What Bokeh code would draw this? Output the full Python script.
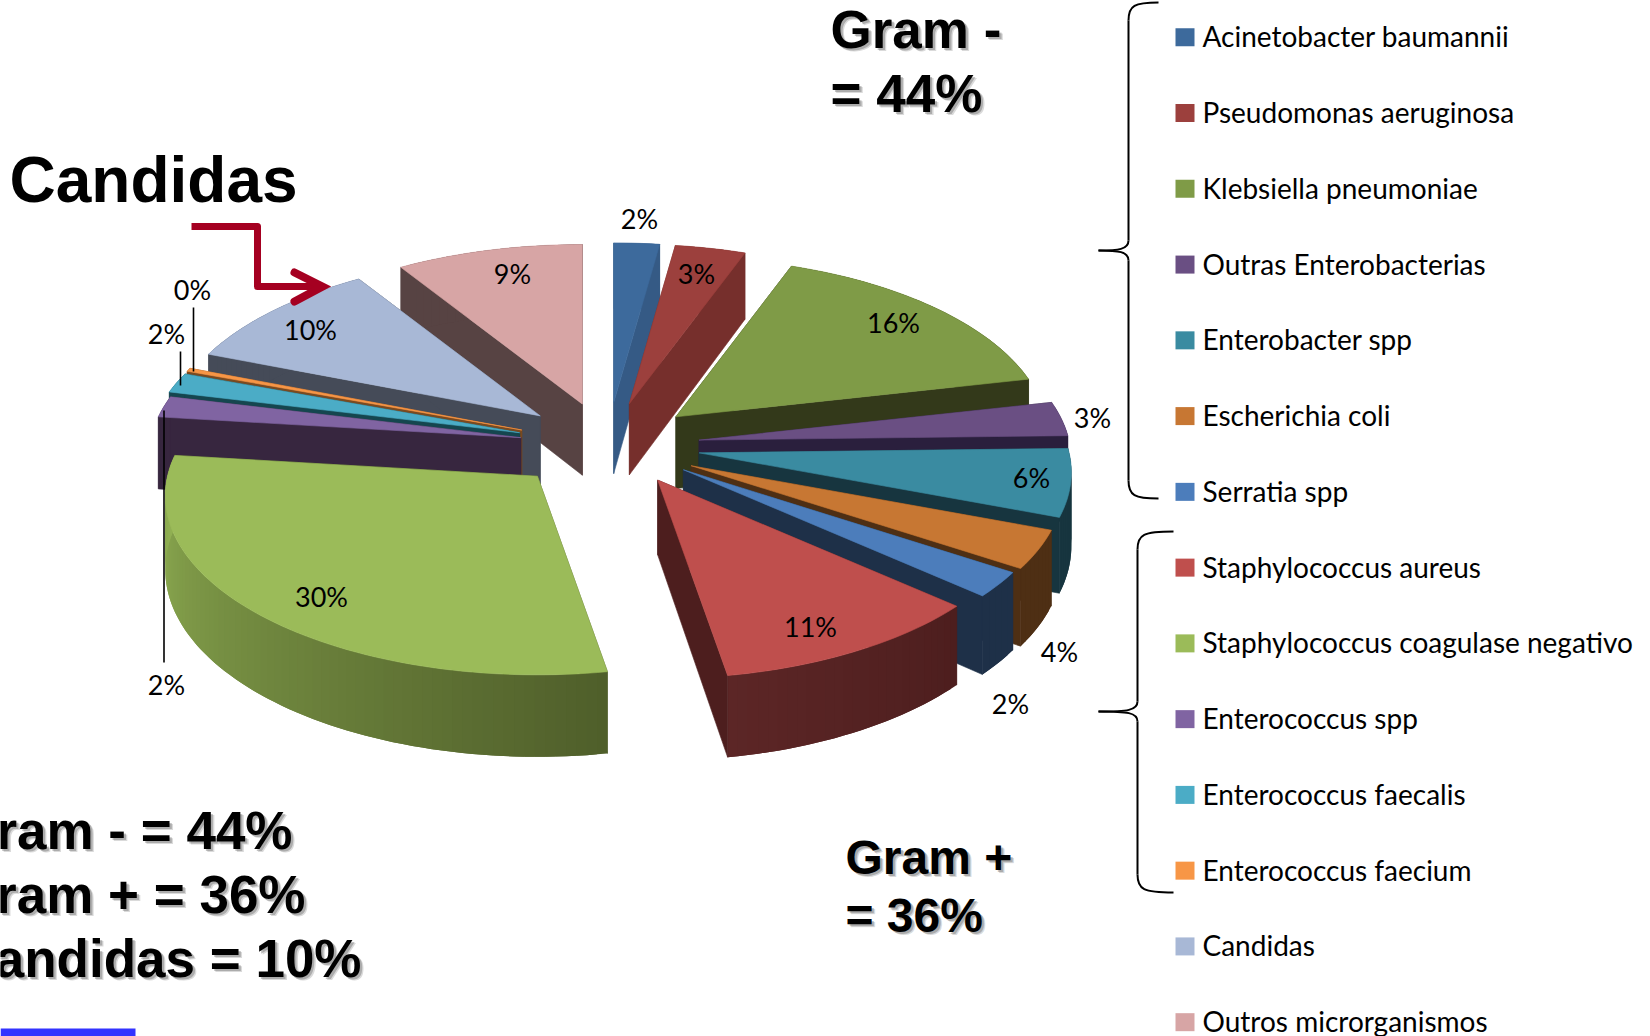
import math
from bokeh.plotting import figure
from bokeh.models import ColumnDataSource, Range1d
from bokeh.core.properties import value
from bokeh.embed import file_html
from bokeh.resources import INLINE

# ---------- data ----------
categories = ["Acinetobacter baumannii", "Pseudomonas aeruginosa", "Klebsiella pneumoniae",
              "Outras Enterobacterias", "Enterobacter spp", "Escherichia coli", "Serratia spp",
              "Staphylococcus aureus", "Staphylococcus coagulase  negativo", "Enterococcus spp",
              "Enterococcus faecalis", "Enterococcus faecium", "Candidas", "Outros microrganismos"]
percent = [2.2, 3.4, 15.9, 3.1, 6.1, 3.5, 2.3, 10.8, 29.6, 1.9, 1.8, 0.3, 10.1, 9.0]
pct_labels = ["2%", "3%", "16%", "3%", "6%", "4%", "2%", "11%", "30%", "2%", "2%", "0%", "10%", "9%"]
top_colors = ["#3d6a9c", "#9c403d", "#7f9b47", "#6a4f83", "#3a8ba1", "#c77733", "#4c7dbb",
              "#bf4f4d", "#9bbb59", "#8064a2", "#4bacc6", "#f79646", "#a8b8d6", "#d7a5a5"]
wall_colors = ["#355a85", "#762f2c", "#33391a", "#2a1f3d", "#17353f", "#4e2f14", "#1e3048",
               "#4d1e1e", "#4f5e2a", "#37263f", "#15464f", "#7a4a20", "#454b58", "#574343"]
wall_end_colors = {7: "#5c2626", 8: "#92b254"}
summary_lines = ["Gram - = 44%", "Gram + = 36%", "Candidas = 10%"]

# ---------- layout ----------
W, H = 1650, 1036
CX, CY, R, K, P, DEPTH, EXPLODE = 607, 445, 370, 177, 0.109, 73, 0.25
APEX_NUDGE = {6: (1, -3), 7: (4, -5), 8: (-5, -2), 9: (4, 0), 12: (3, -2)}
label_x = [639, 696, 893, 1092, 1031, 1059, 1010, 810, 321, 166, 166, 192, 310, 512]
label_y = [218, 273, 322, 417, 477, 651, 703, 626, 596, 684, 333, 289, 329, 273]

total = sum(percent)
edges = [0.0]
for v in percent:
    edges.append(edges[-1] + v / total * 2 * math.pi)


def apex(mid, i):
    u, v = EXPLODE * math.sin(mid), EXPLODE * math.cos(mid)
    d = 1 + P * v
    nx, ny = APEX_NUDGE.get(i, (0, 0))
    return CX + R * u / d + nx, CY - K * v / d + ny


def arc(t):
    u, v = math.sin(t), math.cos(t)
    d = 1 + P * v
    return R * u / d, -K * v / d, DEPTH / d


def hexrgb(c):
    return tuple(int(c[i:i + 2], 16) for i in (1, 3, 5))


def mix(a, b, f):
    ca, cb = hexrgb(a), hexrgb(b)
    return "#%02x%02x%02x" % tuple(round(x + (y - x) * f) for x, y in zip(ca, cb))


xs, ys, colors, widths = [], [], [], []


def add(px, py, c, w=0.6):
    xs.append(px)
    ys.append(py)
    colors.append(c)
    widths.append(w)


def draw_slice(i):
    a0, a1 = edges[i], edges[i + 1]
    mid = (a0 + a1) / 2
    ax, ay = apex(mid, i)
    ad = DEPTH / (1 + P * EXPLODE * math.cos(mid))
    n = max(3, int((a1 - a0) / 0.025))
    ts = [a0 + (a1 - a0) * k / n for k in range(n + 1)]
    pts = [arc(t) for t in ts]
    wall = wall_colors[i]
    wall_end = wall_end_colors.get(i, wall)
    # radial wall on the starting edge
    dx, dy, d = pts[0]
    add([ax, ax + dx, ax + dx, ax], [ay, ay + dy, ay + dy + d, ay + ad], wall)
    # outer curved wall, as overlapping strips so that it can carry a shading
    for k in range(n):
        seg = pts[k:k + 3]
        add([ax + q[0] for q in seg] + [ax + q[0] for q in reversed(seg)],
            [ay + q[1] for q in seg] + [ay + q[1] + q[2] for q in reversed(seg)],
            mix(wall, wall_end, (k + 0.5) / n), 0)
    # radial wall on the closing edge
    dx, dy, d = pts[-1]
    add([ax, ax + dx, ax + dx, ax], [ay, ay + dy, ay + dy + d, ay + ad], wall)
    # top face
    add([ax] + [ax + q[0] for q in pts], [ay] + [ay + q[1] for q in pts], top_colors[i])


for i in [13, 12, 11, 10, 9, 8, 0, 1, 2, 3, 4, 5, 6, 7]:
    draw_slice(i)

p = figure(width=W, height=H, x_range=Range1d(0, W), y_range=Range1d(H, 0),
           output_backend="svg", toolbar_location=None, min_border=0,
           background_fill_color="white", border_fill_color="white")
p.axis.visible = False
p.grid.visible = False
p.outline_line_color = None

p.patches(xs="xs", ys="ys", fill_color="c", line_color="c", line_width="w",
          source=ColumnDataSource(dict(xs=xs, ys=ys, c=colors, w=widths)))

# leader lines
p.segment(x0=[193, 180, 163.5], y0=[307, 351, 410], x1=[193, 180, 163.5], y1=[371, 385, 662],
          line_color="black", line_width=1.6)

# percent labels
p.text(x=label_x, y=label_y, text=pct_labels, text_font=value("Lato"), text_font_size="27px",
       text_align="center", text_baseline="middle", text_color="black")

# legend
row_y = [36.8 + 75.76 * i for i in range(len(categories))]
p.quad(left=1175, right=1194, top=[y - 9 for y in row_y], bottom=[y + 9 for y in row_y],
       fill_color=[c for c in top_colors], line_color=None)
p.text(x=1202, y=[y - 1 for y in row_y], text=categories, text_font=value("Lato"),
       text_font_size="28px", text_align="left", text_baseline="middle", text_color="black")


def brace(x, x_end, top, tip_x, tip_y, bot):
    c = "black"
    p.line([x, x], [top + 18, tip_y - 10], line_color=c, line_width=2)
    p.line([x, x], [tip_y + 10, bot - 18], line_color=c, line_width=2)
    p.bezier(x0=x, y0=top + 18, x1=x_end, y1=top, cx0=x, cy0=top + 3, cx1=x + 6, cy1=top,
             line_color=c, line_width=2)
    p.bezier(x0=x, y0=bot - 18, x1=x_end, y1=bot, cx0=x, cy0=bot - 3, cx1=x + 6, cy1=bot,
             line_color=c, line_width=2)
    p.bezier(x0=x, y0=tip_y - 10, x1=tip_x, y1=tip_y, cx0=x, cy0=tip_y - 1, cx1=x - 10, cy1=tip_y,
             line_color=c, line_width=2)
    p.bezier(x0=x, y0=tip_y + 10, x1=tip_x, y1=tip_y, cx0=x, cy0=tip_y + 1, cx1=x - 10, cy1=tip_y,
             line_color=c, line_width=2)


brace(1128, 1158, 2, 1098, 250, 498)
brace(1137, 1173, 531, 1098, 711, 892)

# arrow
p.line([191, 257, 257, 319], [226, 226, 286, 286], line_color="#a50021", line_width=7,
       line_join="round")
p.line([294, 322, 294], [272, 286, 301], line_color="#a50021", line_width=8,
       line_join="miter", line_cap="round")


def bold(x, y, txt, size, align="left", shadow=True):
    base = y - 0.385 * size
    fs = f"{size}px"
    if shadow:
        for off, alpha in ((3.5, 0.22), (2.2, 0.35)):
            p.text(x=[x + off], y=[base + off], text=[txt], text_font=value("Liberation Sans"),
                   text_font_style="bold", text_font_size=fs, text_align=align,
                   text_baseline="alphabetic", text_color="#555555", text_alpha=alpha)
    p.text(x=[x], y=[base], text=[txt], text_font=value("Liberation Sans"), text_font_style="bold",
           text_font_size=fs, text_align=align, text_baseline="alphabetic", text_color="black")


bold(9, 204, "Candidas", 64, shadow=False)
bold(830, 49, "Gram -", 53)
bold(830, 113, "= 44%", 53)
bold(845, 875, "Gram +", 48)
bold(845, 933, "= 36%", 48)
bold(292, 850, summary_lines[0], 53, "right")
bold(305, 914, summary_lines[1], 53, "right")
bold(361, 978, summary_lines[2], 53, "right")

# blue bar at the foot of the slide
p.quad(left=[0], right=[135], top=[1028], bottom=[1036], fill_color="#3333ff", line_color=None)

open("out.html", "w").write(file_html(p, INLINE))
